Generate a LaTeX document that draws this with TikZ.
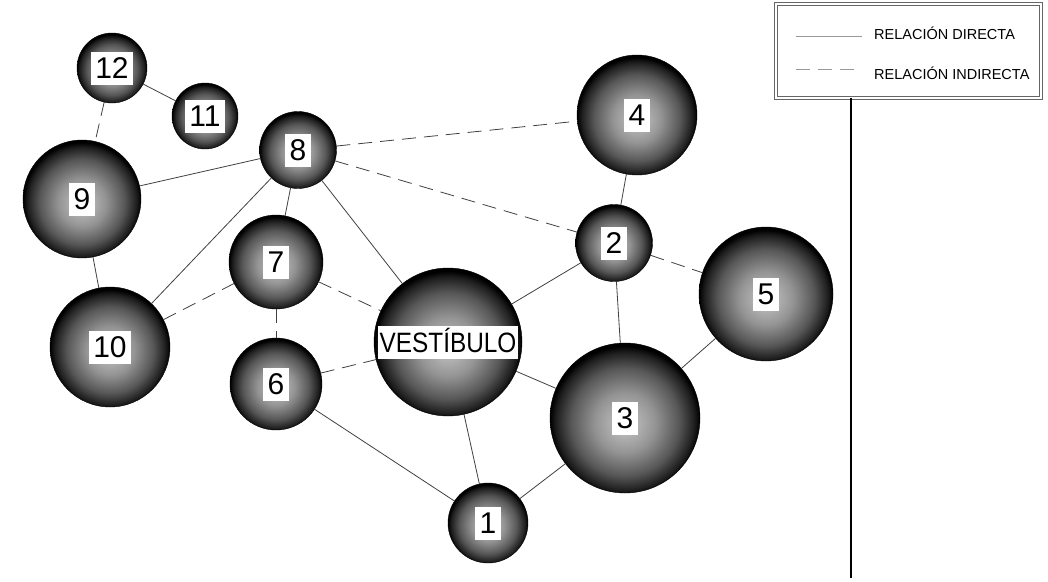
\documentclass[tikz,border=0pt]{standalone}
\usepackage{fontspec}
\setmainfont{Liberation Sans}
\usepackage{tikz}
\usetikzlibrary{positioning}
\pgfdeclareradialshading{sphere}{\pgfpoint{0bp}{-2bp}}{color(0bp)=(black!22); color(10bp)=(black!42); color(18bp)=(black!66); color(23bp)=(black!88); color(25bp)=(black); color(50bp)=(black)}
\newcommand{\tagbox}[2][4.5pt]{{\setlength{\fboxsep}{0pt}\colorbox{white}{\rule[-6pt]{0pt}{33pt}\hspace{#1}#2\hspace{#1}}}}
\tikzset{
ball/.style={shape=circle, minimum size=#1, inner sep=0, outer sep=0, draw=black, shading=sphere, font=\fontsize{30}{33}\selectfont},
directa/.style={draw=black!75, line width=0.8pt}, indirecta/.style={directa, dash pattern=on 14pt off 8pt},
legendbox/.style={draw=black!60, double=white, double distance=2pt, line width=0.7pt}, legendtext/.style={font=\fontsize{14.5}{16}\selectfont, anchor=west, inner sep=0}}
\begin{document}
\begin{tikzpicture}[x=1pt, y=-1pt]
\useasboundingbox (0,0) rectangle (1048,581);
\foreach \nlabel/\x/\y/\d in {1/488/523/80, 2/614/243/77, 3/625/418/150, 4/637/115/120, 5/766/294/134, 6/276/384/92,
      7/276/262/94, 8/298/150/77, 9/82/199/118, 10/110/347/120, 11/205/116/66, 12/112/68/70}{
      \node [ball=\d] at (\x, \y) (n-\nlabel) {\tagbox{\nlabel}};
}
\node [ball=148, font=\fontsize{28}{33}\selectfont] at (448, 342) (n-V) {\tagbox[1.5pt]{\scalebox{0.87}[1]{VESTÍBULO}}};
\foreach \a/\b in {12/11, 9/8, 9/10, 10/8, 8/7, 8/V, 6/1, V/1, V/2, V/3, 1/3, 2/4, 2/3, 3/5}{
      \draw [directa] (n-\a) -- (n-\b);
}
\foreach \a/\b in {12/9, 10/7, 8/4, 8/2, 7/6, 7/V, 6/V, 2/5}{
      \draw [indirecta] (n-\a) -- (n-\b);
}
% leyenda
\node [legendbox, minimum width=265, minimum height=94] at (908.5, 51) (legend) {};
\coordinate (ld-a) at (796, 36);
\coordinate (ld-b) at (862, 36);
\coordinate (li-a) at (796, 69);
\coordinate (li-b) at (862, 69);
\draw [directa, draw=black!40] (ld-a) -- (ld-b);
\draw [indirecta, draw=black!40] (li-a) -- (li-b);
\node [legendtext] at (874, 33) (t-dir) {RELACIÓN DIRECTA};
\node [legendtext] at (874, 73) (t-ind) {RELACIÓN INDIRECTA};
\coordinate (v-top) at (851, 98);
\coordinate (v-bot) at (851, 578);
\draw [line width=1.4pt] (v-top) -- (v-bot);
\end{tikzpicture}
\end{document}
